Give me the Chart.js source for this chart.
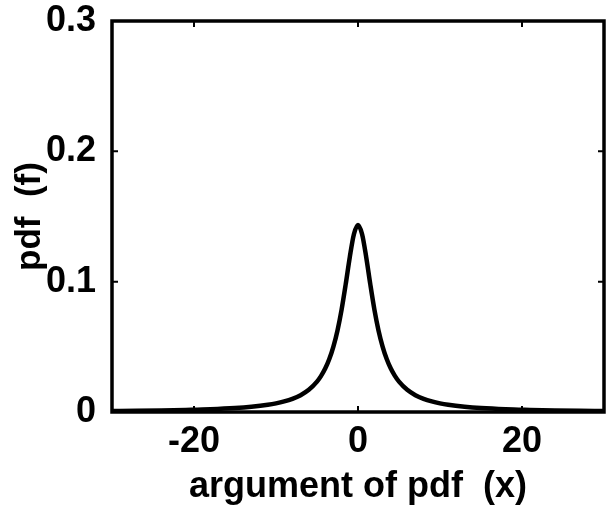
<!DOCTYPE html>
<html><head><meta charset="utf-8">
<script src="https://cdn.jsdelivr.net/npm/chart.js@4.4.0/dist/chart.umd.min.js"></script>
<style>html,body{margin:0;padding:0;background:#fff;}</style>
</head><body>
<canvas id="c" width="608" height="508"></canvas>
<script>
// x positions (argument of pdf) and read-off pdf values
const xValues = [-30, -27, -24, -21, -18, -15, -13, -11, -10, -9, -8, -7, -6, -5, -4.5, -4, -3.5, -3, -2.5, -2, -1.5, -1, -0.5, 0,
                 0.5, 1, 1.5, 2, 2.5, 3, 3.5, 4, 4.5, 5, 6, 7, 8, 9, 10, 11, 13, 15, 18, 21, 24, 27, 30];
const pdfValues = [0.0008, 0.00095, 0.0012, 0.0016, 0.0021, 0.0030, 0.0040, 0.0055, 0.0066, 0.0081, 0.0101, 0.0129, 0.0170, 0.0233, 0.0277, 0.0333, 0.0406, 0.0502, 0.0626, 0.0786, 0.0980, 0.1189, 0.1364, 0.1435,
                   0.1364, 0.1189, 0.0980, 0.0786, 0.0626, 0.0502, 0.0406, 0.0333, 0.0277, 0.0233, 0.0170, 0.0129, 0.0101, 0.0081, 0.0066, 0.0055, 0.0040, 0.0030, 0.0021, 0.0016, 0.0012, 0.00095, 0.0008];
const xTicks = [-20, 0, 20];
const yTicks = [0, 0.1, 0.2, 0.3];
const xLabel = 'argument of pdf  (x)';
const yLabel = 'pdf  (f)';

const FONT = '"Liberation Sans", Arial, Helvetica, sans-serif';

const boxPlugin = {
  id: 'box',
  afterDraw(chart) {
    const {ctx, chartArea: a, scales} = chart;
    ctx.save();
    ctx.strokeStyle = '#000';
    ctx.lineWidth = 2;
    const tl = 6;
    ctx.beginPath();
    xTicks.forEach(v => {
      const px = scales.x.getPixelForValue(v);
      ctx.moveTo(px, a.bottom); ctx.lineTo(px, a.bottom - tl);
      ctx.moveTo(px, a.top); ctx.lineTo(px, a.top + tl);
    });
    yTicks.forEach(v => {
      const py = scales.y.getPixelForValue(v);
      ctx.moveTo(a.left, py); ctx.lineTo(a.left + tl, py);
      ctx.moveTo(a.right, py); ctx.lineTo(a.right - tl, py);
    });
    ctx.stroke();
    ctx.lineWidth = 3.5;
    ctx.strokeRect(a.left, a.top, a.right - a.left, a.bottom - a.top);
    ctx.restore();
  }
};

new Chart(document.getElementById('c'), {
  type: 'line',
  data: {
    datasets: [{
      data: xValues.map((x, i) => ({x: x, y: pdfValues[i]})),
      borderColor: '#000',
      borderWidth: 4.5,
      pointRadius: 0,
      cubicInterpolationMode: 'monotone',
      fill: false
    }]
  },
  options: {
    responsive: false,
    devicePixelRatio: 1,
    animation: false,
    events: [],
    layout: {padding: {top: 21, right: 4, left: 0, bottom: 0}},
    plugins: {legend: {display: false}, tooltip: {enabled: false}, title: {display: false}},
    scales: {
      x: {
        type: 'linear', min: -30, max: 30,
        afterBuildTicks: s => { s.ticks = xTicks.map(v => ({value: v})); },
        afterFit: s => { s.height = 96; s.paddingLeft = 0; s.paddingRight = 0; },
        grid: {display: false},
        border: {display: false},
        ticks: {color: '#000', font: {family: FONT, size: 36, weight: 'bold'}, padding: 0, maxRotation: 0,
                callback: v => String(v)},
        title: {display: true, text: xLabel, color: '#000', font: {family: FONT, size: 36, weight: 'bold', lineHeight: 1},
                padding: {top: 0, bottom: 3}}
      },
      y: {
        type: 'linear', min: 0, max: 0.3,
        afterBuildTicks: s => { s.ticks = yTicks.map(v => ({value: v})); },
        afterFit: s => { s.width = 112; s.paddingTop = 0; s.paddingBottom = 0; },
        grid: {display: false},
        border: {display: false},
        ticks: {color: '#000', font: {family: FONT, size: 36, weight: 'bold'}, padding: 8,
                callback: v => v === 0 ? '0' : v.toFixed(1)},
        title: {display: true, text: yLabel, color: '#000', font: {family: FONT, size: 35, weight: 'bold', lineHeight: 1},
                padding: {top: 13, bottom: 0}}
      }
    }
  },
  plugins: [boxPlugin]
});
</script>
</body></html>
